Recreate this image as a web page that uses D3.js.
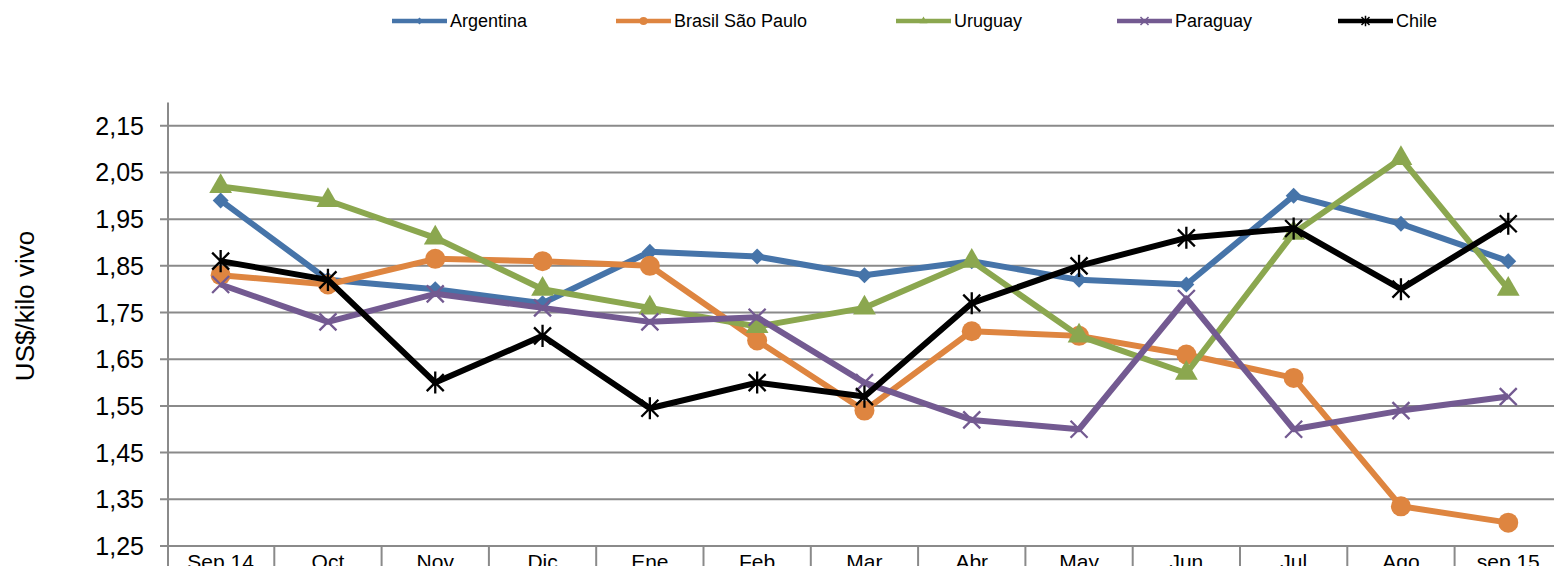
<!DOCTYPE html>
<html>
<head>
<meta charset="utf-8">
<script src="https://cdn.jsdelivr.net/npm/d3@7"></script>
<style>
  body { margin: 0; background: #fff; overflow: hidden; }
  svg { display: block; font-family: "Liberation Sans", Arial, sans-serif; }
</style>
</head>
<body>
<div id="chart"></div>
<script>
const categories = ["Sep 14", "Oct", "Nov", "Dic", "Ene", "Feb", "Mar", "Abr", "May", "Jun", "Jul", "Ago", "sep 15"];
const argentina = [1.99, 1.82, 1.80, 1.77, 1.88, 1.87, 1.83, 1.86, 1.82, 1.81, 2.00, 1.94, 1.86];
const brasil = [1.83, 1.81, 1.865, 1.86, 1.85, 1.69, 1.54, 1.71, 1.70, 1.66, 1.61, 1.335, 1.30];
const uruguay = [2.02, 1.99, 1.91, 1.80, 1.76, 1.72, 1.76, 1.86, 1.70, 1.62, 1.92, 2.08, 1.80];
const paraguay = [1.81, 1.73, 1.79, 1.76, 1.73, 1.74, 1.60, 1.52, 1.50, 1.78, 1.50, 1.54, 1.57];
const chile = [1.86, 1.82, 1.60, 1.70, 1.545, 1.60, 1.57, 1.77, 1.85, 1.91, 1.93, 1.80, 1.94];
const yTicks = [1.25, 1.35, 1.45, 1.55, 1.65, 1.75, 1.85, 1.95, 2.05, 2.15];

const width = 1554, height = 566;

const series = [
  { name: "Argentina", values: argentina, color: "#4674A9", marker: "diamond", legendX: 392 },
  { name: "Brasil São Paulo", values: brasil, color: "#DE8540", marker: "circle", legendX: 616 },
  { name: "Uruguay", values: uruguay, color: "#8BA74F", marker: "triangle", legendX: 896 },
  { name: "Paraguay", values: paraguay, color: "#735A91", marker: "x", legendX: 1117 },
  { name: "Chile", values: chile, color: "#000000", marker: "asterisk", legendX: 1338 }
];

const svg = d3.select("#chart").append("svg")
  .attr("width", width)
  .attr("height", height);

const x = d3.scaleBand()
  .domain(categories)
  .range([167, 167 + 13 * 107.3]);

const y = d3.scaleLinear()
  .domain([1.25, 2.20])
  .range([546, 102.4]);

const cx = (i) => x(categories[i]) + x.bandwidth() / 2;

// gridlines
svg.append("g")
  .selectAll("line")
  .data(yTicks)
  .join("line")
  .attr("x1", 160)
  .attr("x2", width)
  .attr("y1", (d) => y(d))
  .attr("y2", (d) => y(d))
  .attr("stroke", "#8a8a8a")
  .attr("stroke-width", 2);

// y axis line
svg.append("line")
  .attr("x1", 168).attr("x2", 168)
  .attr("y1", y(2.20)).attr("y2", height)
  .attr("stroke", "#8a8a8a").attr("stroke-width", 2);

// y tick labels
svg.append("g")
  .selectAll("text")
  .data(yTicks)
  .join("text")
  .attr("x", 144)
  .attr("y", (d) => y(d))
  .attr("dy", "0.36em")
  .attr("text-anchor", "end")
  .attr("font-size", 25)
  .attr("fill", "#000")
  .text((d) => d3.format(".2f")(d).replace(".", ","));

// category dividers under the axis
svg.append("g")
  .selectAll("line")
  .data(categories.slice(1))
  .join("line")
  .attr("x1", (d) => x(d))
  .attr("x2", (d) => x(d))
  .attr("y1", y(1.25))
  .attr("y2", height)
  .attr("stroke", "#8a8a8a")
  .attr("stroke-width", 2);

// category labels (cut off by the bottom edge, as in the source)
svg.append("g")
  .selectAll("text")
  .data(categories)
  .join("text")
  .attr("x", (d) => x(d) + x.bandwidth() / 2)
  .attr("y", 569)
  .attr("text-anchor", "middle")
  .attr("font-size", 21)
  .text((d) => d);

// y title
svg.append("text")
  .attr("transform", "translate(34,306) rotate(-90)")
  .attr("text-anchor", "middle")
  .attr("font-size", 26)
  .text("US$/kilo vivo");

const markerPath = (type, s) => {
  if (type === "diamond") return d3.symbol(d3.symbolDiamond2, 2 * s * s)();
  if (type === "circle") return d3.symbol(d3.symbolCircle, Math.PI * s * s)();
  if (type === "triangle") return d3.symbol(d3.symbolTriangle, 1.7 * s * s)();
  if (type === "x") return `M${-s},${-s}L${s},${s}M${-s},${s}L${s},${-s}`;
  return `M${-s},${-s}L${s},${s}M${-s},${s}L${s},${-s}M0,${-s * 1.3}L0,${s * 1.3}`;
};
const markerSize = { diamond: 9, circle: 10, triangle: 11.5, x: 8.5, asterisk: 8.5 };

const line = d3.line()
  .x((d, i) => cx(i))
  .y((d) => y(d));

series.forEach((s) => {
  const g = svg.append("g");
  g.append("path")
    .datum(s.values)
    .attr("d", line)
    .attr("fill", "none")
    .attr("stroke", s.color)
    .attr("stroke-width", 6)
    .attr("stroke-linejoin", "round");
  const stroked = s.marker === "x" || s.marker === "asterisk";
  g.selectAll(".m")
    .data(s.values)
    .join("path")
    .attr("class", "m")
    .attr("transform", (d, i) => `translate(${cx(i)},${y(d)})`)
    .attr("d", markerPath(s.marker, markerSize[s.marker]))
    .attr("fill", stroked ? "none" : s.color)
    .attr("stroke", s.color)
    .attr("stroke-width", stroked ? 2.3 : 0);
});

// legend
const legend = svg.append("g");
series.forEach((s) => {
  const g = legend.append("g").attr("transform", `translate(${s.legendX},21)`);
  g.append("line")
    .attr("x1", 0).attr("x2", 55)
    .attr("stroke", s.color).attr("stroke-width", 4.5);
  const stroked = s.marker === "x" || s.marker === "asterisk";
  g.append("path")
    .attr("transform", "translate(27.5,0)")
    .attr("d", markerPath(s.marker, 4))
    .attr("fill", stroked ? "none" : s.color)
    .attr("stroke", s.color)
    .attr("stroke-width", stroked ? 1.5 : 0);
  g.append("text")
    .attr("x", 58)
    .attr("dy", "0.36em")
    .attr("font-size", 18)
    .text(s.name);
});
</script>
</body>
</html>
